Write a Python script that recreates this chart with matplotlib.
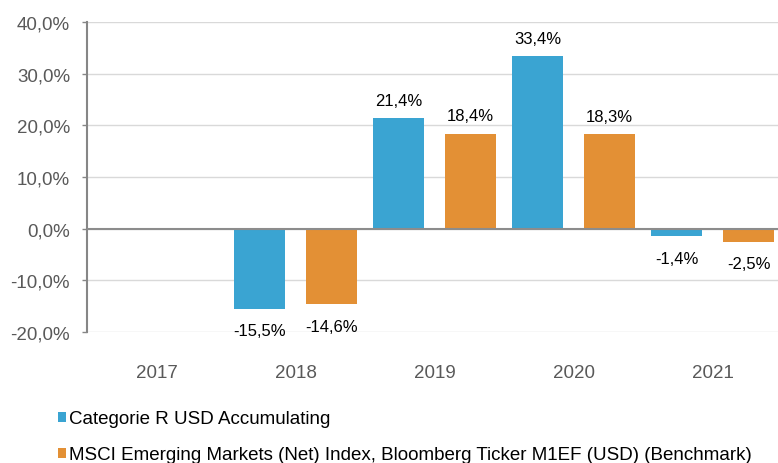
import numpy as np
import matplotlib.pyplot as plt

# data
years = ["2017", "2018", "2019", "2020", "2021"]
fund = [np.nan, -15.5, 21.4, 33.4, -1.4]
bench = [np.nan, -14.6, 18.4, 18.3, -2.5]
fund_name = "Categorie R USD Accumulating"
bench_name = "MSCI Emerging Markets (Net) Index, Bloomberg Ticker M1EF (USD) (Benchmark)"

blue = "#3AA4D2"
orange = "#E39035"
grey_txt = "#595959"

plt.rcParams["font.family"] = ["Liberation Sans", "DejaVu Sans"]

fig = plt.figure(figsize=(7.78, 4.64), dpi=100)
ax = fig.add_axes([87 / 778, 1 - 333 / 464, 1 - 87 / 778, (333 - 23) / 464])

x = np.arange(len(years))
w = 0.367
off = 0.259
b1 = ax.bar(x - off, fund, w, color=blue, zorder=3)
b2 = ax.bar(x + off, bench, w, color=orange, zorder=3)

def fmt(v):
    return f"{v:.1f}%".replace(".", ",")

for bars, vals in [(b1, fund), (b2, bench)]:
    for r, v in zip(bars, vals):
        if np.isnan(v):
            continue
        ax.annotate(fmt(v), (r.get_x() + r.get_width() / 2, v),
                    xytext=(0, 13 if v >= 0 else -16), textcoords="offset points",
                    ha="center", va="center", fontsize=12, color="black")

ax.set_ylim(-20, 40)
ax.set_xlim(-0.5, -0.5 + 691 / 139)
yt = np.arange(-20, 41, 10)
ax.set_yticks(yt)
ax.set_yticklabels([f"{t:.1f}%".replace(".", ",") for t in yt], fontsize=13.5, color=grey_txt)
ax.set_xticks(x)
ax.set_xticklabels(years, fontsize=13.5, color=grey_txt)
ax.tick_params(axis="x", length=0, pad=23)
ax.tick_params(axis="y", length=3.6, width=1, color="#868686", direction="out", pad=8.6)

ax.grid(axis="y", color="#D9D9D9", linewidth=1, zorder=0)
ax.axhline(0, color="#8C8C8C", linewidth=1.5, zorder=4)
for s in ["top", "right", "bottom"]:
    ax.spines[s].set_visible(False)
ax.spines["left"].set_color("#868686")
ax.spines["left"].set_linewidth(1.5)

fig.legend([b1, b2], [fund_name, bench_name], loc="upper left",
           bbox_to_anchor=(50 / 778, 1 - 404 / 464), frameon=False, ncol=1,
           handlelength=0.45, handleheight=0.45, handletextpad=0.15,
           labelspacing=1.0, fontsize=13.5, borderaxespad=0)

fig.savefig("out.png", dpi=100)
